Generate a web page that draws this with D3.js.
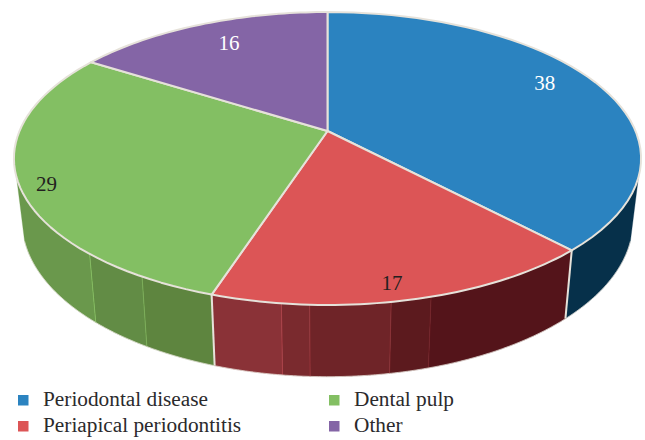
<!DOCTYPE html>
<html><head><meta charset="utf-8">
<script src="https://cdn.jsdelivr.net/npm/d3@7/dist/d3.min.js"></script>
<style>html,body{margin:0;padding:0;background:#fff}svg{display:block}text{font-family:"Liberation Serif","Times New Roman",serif}</style>
</head><body><svg id="c" width="645" height="440"></svg>
<script>
const categories = ["Periodontal disease","Periapical periodontitis","Dental pulp","Other"];
const values = [38,17,29,16];
const colors = ["#2b83c0","#dc5556","#83bf63","#8465a6"];
const labelColors = ["#ffffff","#231f20","#231f20","#ffffff"];
// side wall shading: each slice's wall is split at these angles (degrees clockwise from top)
const sideBreaks = [[],[164,170.3,182.7,187],[210.3,221.6],[]];
const sideShades = [["#06304a"],["#54141a","#5c1a1e","#6f2428","#7a2a2e","#8a3237"],["#5e853f","#628c45","#6a984c"],["#4f3d66"]];
const labelRadius = [0.837,0.912,0.921,0.793];
const labelShift = [-4.2,1.6,-2.5,1.6];

const svg = d3.select("#c");
const rad = d3.scaleLinear().domain([0,360]).range([0,2*Math.PI]);
const K = 0.1877;
function proj(p){ return (theta,r=1)=>{
  const x=r*Math.sin(theta), y=-r*Math.cos(theta), w=1-K*y;
  return [p.cx+p.R*x/w, p.cy+p.S*y/w];
};}
const topDisc = proj({cx:327.5,cy:131,R:308,S:141.3});
const botDisc = proj({cx:327.5,cy:192,R:300,S:150});
const line = d3.line();
const steps=(a,b)=>d3.range(0,49).map(i=>a+(b-a)*i/48);
const rimCol="#e6e2da";
const arcs = d3.pie().sort(null).value(d=>d)(values);
const visA=rad(108), visB=rad(252);

// side walls
arcs.forEach((s,i)=>{
  const a=Math.max(s.startAngle,visA), b=Math.min(s.endAngle,visB);
  if(a>=b) return;
  const cuts=[a,...sideBreaks[i].map(rad),b];
  d3.pairs(cuts).forEach(([u,v],j)=>{
    const ang=steps(u,v);
    const pts=[...ang.map(t=>topDisc(t)),...ang.slice().reverse().map(t=>botDisc(t))];
    svg.append("path").attr("d",line(pts)+"Z").attr("fill",sideShades[i][j]).attr("stroke",sideShades[i][j]).attr("stroke-width",0.3);
    if(j>0){
      svg.append("path").attr("d",line([topDisc(u),botDisc(u)])).attr("stroke",d3.color(sideShades[i][j]).brighter(0.7)).attr("stroke-width",0.8).attr("fill","none");
    }
  });
  svg.append("path").attr("d",line(steps(a,b).map(t=>botDisc(t)))).attr("stroke",rimCol).attr("stroke-width",0.7).attr("fill","none");
});
// bright edges between slices on the wall
arcs.forEach(s=>{
  const t=s.startAngle;
  if(t>visA && t<visB) svg.append("path").attr("d",line([topDisc(t),botDisc(t)])).attr("stroke",rimCol).attr("stroke-width",2).attr("fill","none");
});
// top face
arcs.forEach((s,i)=>{
  const rim=steps(s.startAngle,s.endAngle).map(t=>topDisc(t));
  svg.append("path").attr("d",line([topDisc(0,0),...rim])+"Z").attr("fill",colors[i]).attr("stroke",rimCol).attr("stroke-width",2).attr("stroke-linejoin","round");
});
// value labels
arcs.forEach((s,i)=>{
  const [x,y]=topDisc((s.startAngle+s.endAngle)/2+rad(labelShift[i]),labelRadius[i]);
  svg.append("text").attr("x",x).attr("y",y).attr("dy","0.34em").attr("text-anchor","middle").attr("font-size",21).attr("fill",labelColors[i]).text(values[i]);
});
// legend
const lx=d3.scaleOrdinal().domain([0,1]).range([18,329]);
const ly=d3.scaleOrdinal().domain([0,1]).range([406,432]);
categories.forEach((c,i)=>{
  const col=i===0||i===1?0:1, row=i%2===0?0:1;
  const g=svg.append("g");
  g.append("rect").attr("x",lx(col)).attr("y",ly(row)-11).attr("width",10.5).attr("height",10.5).attr("fill",colors[i]);
  g.append("text").attr("x",lx(col)+25).attr("y",ly(row)).attr("font-size",21.3).attr("fill","#2b2a2c").text(c);
});
</script></body></html>
